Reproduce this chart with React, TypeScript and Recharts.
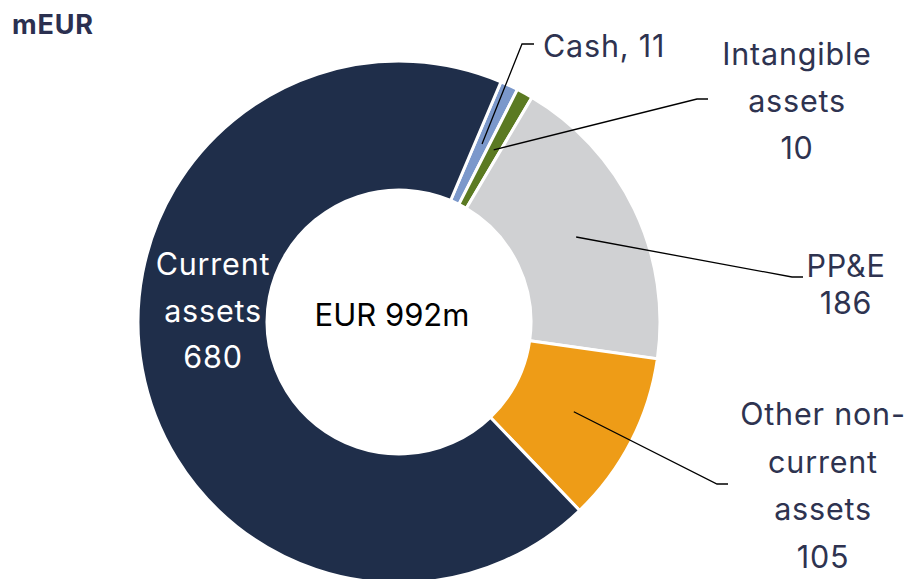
import React from 'react';
import { PieChart, Pie, Cell } from 'recharts';

const categories = ['Cash', 'Intangible assets', 'PP&E', 'Other non-current assets', 'Current assets'];
const values = [11, 10, 186, 105, 680];
const colors = ['#7B98CB', '#5B7A22', '#D0D1D3', '#EE9C17', '#1F2E4A'];
const labelLines = [
  ['Cash, 11'],
  ['Intangible', 'assets', '10'],
  ['PP&E', '186'],
  ['Other non-', 'current', 'assets', '105'],
  ['Current', 'assets', '680'],
];
const unitLabel = 'mEUR';

const data = categories.map((c, i) => ({ name: c, value: values[i] }));
const total = values.reduce((a, b) => a + b, 0);

const CX = 399;
const CY = 322;
const FONT = 'Inter, "Noto Sans", sans-serif';
const TEXT = '#2E3350';

// layout of labels relative to the pie centre
const layout = [
  { elbow: [123, -278], end: [135, -278], anchor: 'start', tx: 144, ty: -265, step: 47, color: TEXT },
  { elbow: [298, -223], end: [309, -223], anchor: 'middle', tx: 398, ty: -257, step: 47, color: TEXT },
  { elbow: [393, -45], end: [404, -45], anchor: 'middle', tx: 447, ty: -45, step: 37, color: TEXT },
  { elbow: [318, 162], end: [329, 162], anchor: 'middle', tx: 424, ty: 103, step: 47.5, color: TEXT },
  { elbow: null, end: null, anchor: 'middle', tx: -186, ty: -47, step: 46.5, color: '#FFFFFF' },
];

const RAD = Math.PI / 180;

const renderLabel = (props: any) => {
  const { cx, cy, midAngle, innerRadius, outerRadius, index } = props;
  const L = layout[index];
  const r = (innerRadius + outerRadius) / 2;
  const sx = cx + r * Math.cos(-midAngle * RAD);
  const sy = cy + r * Math.sin(-midAngle * RAD);
  return (
    <g key={`lbl-${index}`}>
      {L.elbow && (
        <polyline
          points={`${sx},${sy} ${cx + L.elbow[0]},${cy + L.elbow[1]} ${cx + L.end[0]},${cy + L.end[1]}`}
          fill="none"
          stroke="#000"
          strokeWidth={1.3}
        />
      )}
      <text
        x={cx + L.tx}
        y={cy + L.ty}
        textAnchor={L.anchor}
        fill={L.color}
        fontFamily={FONT}
        fontSize={30.5}
        letterSpacing={0.8}
      >
        {labelLines[index].map((ln, i) => (
          <tspan key={i} x={cx + L.tx} dy={i === 0 ? 0 : L.step}>
            {ln}
          </tspan>
        ))}
      </text>
    </g>
  );
};

export default function App() {
  return (
    <div style={{ position: 'absolute', left: 0, top: 0, width: 914, height: 579, background: '#fff' }}>
      <PieChart width={914} height={579} margin={{ top: 0, right: 0, bottom: 0, left: 0 }}>
        <Pie
          data={data}
          dataKey="value"
          nameKey="name"
          cx={CX}
          cy={CY}
          innerRadius={132}
          outerRadius={261}
          startAngle={67}
          endAngle={-293}
          stroke="#FFFFFF"
          strokeWidth={3}
          isAnimationActive={false}
          labelLine={false}
          label={renderLabel}
        >
          {data.map((d, i) => (
            <Cell key={d.name} fill={colors[i]} />
          ))}
        </Pie>
        <text x={12} y={34} fontFamily={FONT} fontWeight={700} fontSize={27} letterSpacing={0.8} fill="#2B3050">
          {unitLabel}
        </text>
        <text x={CX - 7} y={CY + 4} textAnchor="middle" fontFamily={FONT} fontSize={31} fill="#000">
          {`EUR ${total}m`}
        </text>
      </PieChart>
    </div>
  );
}
